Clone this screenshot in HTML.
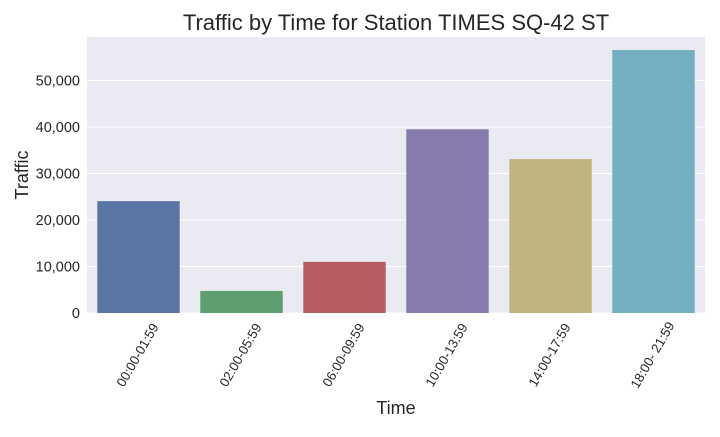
<!DOCTYPE html>
<html><head><meta charset="utf-8"><style>
body{margin:0;background:#fff}
svg text{font-family:"Liberation Sans",Arial,sans-serif;fill:#262626}
</style></head><body>
<svg id="chart" width="720" height="432" xmlns="http://www.w3.org/2000/svg">
<rect x="87" y="37" width="618" height="276" fill="#eaeaf2"/>
<g id="grid"></g><g id="bars"></g><g id="xt"></g><g id="yt"></g>
<text x="396" y="30" font-size="22" text-anchor="middle">Traffic by Time for Station TIMES SQ-42 ST</text>
<text x="396" y="414" font-size="18" text-anchor="middle">Time</text>
<text x="0" y="0" font-size="18" text-anchor="middle" transform="translate(28,175) rotate(-90)">Traffic</text>
</svg>
<script>
const categories=["00:00-01:59","02:00-05:59","06:00-09:59","10:00-13:59","14:00-17:59","18:00- 21:59"];
const values=[24050,4750,11000,39500,33100,56550];
const yTicks=[0,10000,20000,30000,40000,50000];
const colors=["#5975a4","#5f9e6e","#b55d60","#857aab","#c1b37f","#73afc1"];
const NS="http://www.w3.org/2000/svg";
const X0=87,W=618,Y0=313,YMAX=59355,H=276;
const y=v=>Y0-v/YMAX*H;
const band=W/categories.length;
const xc=i=>X0+band*(i+0.5);
function mk(t,a,p){const e=document.createElementNS(NS,t);for(const k in a)e.setAttribute(k,a[k]);document.getElementById(p).appendChild(e);return e;}
yTicks.forEach(t=>{
  const l=mk("line",{x1:X0,x2:X0+W,y1:y(t),y2:y(t),stroke:"#fff","stroke-width":1},"grid");
  
  
  const tx=mk("text",{x:X0-7,y:y(t)+5,"font-size":14.5,"text-anchor":"end"},"yt");
  tx.textContent=t.toLocaleString("en-US");
  
  
});
categories.forEach((c,i)=>{
  const bw=band*0.8;
  const r=mk("rect",{x:xc(i)-bw/2,y:y(values[i]),width:bw,height:Y0-y(values[i]),fill:colors[i]},"bars");
  
  
  const cy=355;
  const t=mk("text",{x:xc(i)-1,y:cy,"font-size":13.2,"text-anchor":"middle","dominant-baseline":"central",transform:`rotate(-60 ${xc(i)-1} ${cy})`},"xt");
  t.textContent=c;
  
  
});
</script>
</body></html>
